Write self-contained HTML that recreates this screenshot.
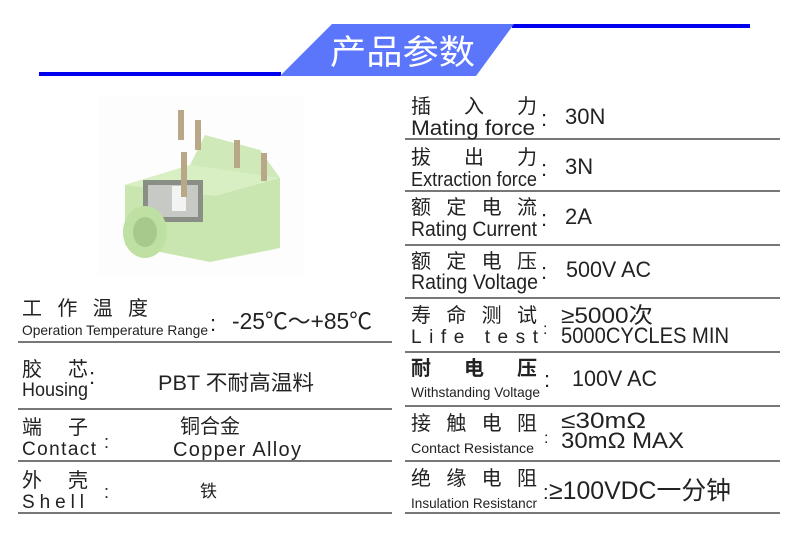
<!DOCTYPE html>
<html><head><meta charset="utf-8"><style>
html,body{margin:0;padding:0;background:#fff;}
svg{display:block;}
text{font-family:"Liberation Sans","Noto Sans CJK SC",sans-serif;fill:#222;}
.cn{font-family:"Noto Sans CJK SC","WenQuanYi Zen Hei",sans-serif;}
</style></head><body>
<svg width="790" height="553" viewBox="0 0 790 553" xmlns="http://www.w3.org/2000/svg">
<!-- header -->
<rect x="512" y="24" width="238" height="4" fill="#0000ee"/>
<rect x="39" y="72" width="242" height="4" fill="#0000ee"/>
<polygon points="332,24 514,24 476,76 280,76" fill="#5b76fb"/>
<text x="330" y="64" class="cn" font-size="34" style="fill:#fff" textLength="145" lengthAdjust="spacingAndGlyphs">产品参数</text>

<!-- product image -->
<rect x="98" y="97" width="206" height="178" fill="#fdfdfd"/>
<g>
<polygon points="125,185 190,165 280,178 280,248 210,262 125,245" fill="#c9e6b0"/>
<polygon points="125,185 190,165 280,178 215,196" fill="#d8efc4"/>
<polygon points="190,165 205,135 260,150 280,178" fill="#cfe9b8"/>
<rect x="143" y="180" width="60" height="42" fill="#8a8f86"/>
<rect x="148" y="185" width="50" height="32" fill="#c7c9c5"/>
<rect x="172" y="186" width="14" height="25" fill="#f3f3f3"/>
<rect x="178" y="110" width="6" height="30" fill="#b8a887"/>
<rect x="195" y="120" width="6" height="30" fill="#b8a887"/>
<rect x="234" y="140" width="6" height="28" fill="#b8a887"/>
<rect x="261" y="153" width="6" height="28" fill="#b8a887"/>
<rect x="181" y="152" width="6" height="45" fill="#b8a887"/>
<ellipse cx="145" cy="232" rx="22" ry="26" fill="#bfe0a3"/>
<ellipse cx="145" cy="232" rx="12" ry="15" fill="#a8c98e"/>
</g>

<!-- separators -->
<g fill="#777">
<rect x="18" y="341" width="374" height="2"/>
<rect x="18" y="408" width="374" height="2"/>
<rect x="18" y="460" width="374" height="2"/>
<rect x="18" y="512" width="374" height="2"/>
<rect x="405" y="138" width="375" height="2"/>
<rect x="405" y="190" width="375" height="2"/>
<rect x="405" y="244" width="375" height="2"/>
<rect x="405" y="297" width="375" height="2"/>
<rect x="405" y="351" width="375" height="2"/>
<rect x="405" y="405" width="375" height="2"/>
<rect x="405" y="460" width="375" height="2"/>
<rect x="405" y="512" width="375" height="2"/>
</g>

<!-- left column -->
<text class="cn" x="22" y="315" font-size="20" textLength="126" lengthAdjust="spacing">工作温度</text>
<text x="22" y="335" font-size="14" textLength="186" lengthAdjust="spacingAndGlyphs">Operation Temperature Range</text>
<text x="210" y="331" font-size="22">:</text>
<text x="232" y="329" font-size="23" textLength="140" lengthAdjust="spacingAndGlyphs">-25℃～+85℃</text>

<text class="cn" x="22" y="376" font-size="20" textLength="66" lengthAdjust="spacing">胶芯</text>
<text x="22" y="396" font-size="19" textLength="66" lengthAdjust="spacingAndGlyphs">Housing</text>
<text x="89" y="384" font-size="22">:</text>
<text x="158" y="390" font-size="21" textLength="156" lengthAdjust="spacingAndGlyphs">PBT 不耐高温料</text>

<text class="cn" x="22" y="434" font-size="20" textLength="66" lengthAdjust="spacing">端子</text>
<text x="22" y="455" font-size="19" textLength="74" lengthAdjust="spacing">Contact</text>
<text x="104" y="448" font-size="18">:</text>
<text class="cn" x="180" y="433" font-size="20">铜合金</text>
<text x="173" y="456" font-size="20" textLength="128" lengthAdjust="spacing">Copper Alloy</text>

<text class="cn" x="22" y="487" font-size="20" textLength="66" lengthAdjust="spacing">外壳</text>
<text x="22" y="508" font-size="19" textLength="62" lengthAdjust="spacing">Shell</text>
<text x="104" y="498" font-size="18">:</text>
<text class="cn" x="200" y="497" font-size="17">铁</text>

<!-- right column -->
<text class="cn" x="411" y="113" font-size="20" textLength="126" lengthAdjust="spacing">插入力</text>
<text x="411" y="135" font-size="21" textLength="124" lengthAdjust="spacingAndGlyphs">Mating force</text>
<text x="541" y="126" font-size="22">:</text>
<text x="565" y="124" font-size="22">30N</text>

<text class="cn" x="411" y="164" font-size="20" textLength="126" lengthAdjust="spacing">拔出力</text>
<text x="411" y="186" font-size="20" textLength="126" lengthAdjust="spacingAndGlyphs">Extraction force</text>
<text x="541" y="176" font-size="22">:</text>
<text x="565" y="174" font-size="22">3N</text>

<text class="cn" x="411" y="214" font-size="20" textLength="126" lengthAdjust="spacing">额定电流</text>
<text x="411" y="236" font-size="21" textLength="126" lengthAdjust="spacingAndGlyphs">Rating Current</text>
<text x="541" y="226" font-size="22">:</text>
<text x="565" y="224" font-size="22">2A</text>

<text class="cn" x="411" y="268" font-size="20" textLength="126" lengthAdjust="spacing">额定电压</text>
<text x="411" y="289" font-size="21" textLength="127" lengthAdjust="spacingAndGlyphs">Rating Voltage</text>
<text x="541" y="279" font-size="22">:</text>
<text x="566" y="277" font-size="22" textLength="85" lengthAdjust="spacingAndGlyphs">500V AC</text>

<text class="cn" x="411" y="322" font-size="20" textLength="126" lengthAdjust="spacing">寿命测试</text>
<text x="411" y="343" font-size="19" textLength="127" lengthAdjust="spacing">Life test</text>
<text x="543" y="334" font-size="16">:</text>
<text x="561" y="323" font-size="22" textLength="92" lengthAdjust="spacingAndGlyphs">≥5000次</text>
<text x="561" y="343" font-size="22" textLength="168" lengthAdjust="spacingAndGlyphs">5000CYCLES MIN</text>

<text class="cn" x="411" y="375" font-size="20" font-weight="bold" textLength="126" lengthAdjust="spacing">耐电压</text>
<text x="411" y="397" font-size="14" textLength="129" lengthAdjust="spacingAndGlyphs">Withstanding Voltage</text>
<text x="544" y="387" font-size="22">:</text>
<text x="572" y="386" font-size="22" textLength="85" lengthAdjust="spacingAndGlyphs">100V AC</text>

<text class="cn" x="411" y="430" font-size="20" textLength="126" lengthAdjust="spacing">接触电阻</text>
<text x="411" y="453" font-size="14" textLength="123" lengthAdjust="spacingAndGlyphs">Contact Resistance</text>
<text x="544" y="443" font-size="16">:</text>
<text x="561" y="428" font-size="22" textLength="85" lengthAdjust="spacingAndGlyphs">≤30mΩ</text>
<text x="561" y="448" font-size="22" textLength="123" lengthAdjust="spacingAndGlyphs">30mΩ  MAX</text>

<text class="cn" x="411" y="485" font-size="20" textLength="126" lengthAdjust="spacing">绝缘电阻</text>
<text x="411" y="508" font-size="14" textLength="126" lengthAdjust="spacingAndGlyphs">Insulation Resistancr</text>
<text x="543" y="499" font-size="20">:</text>
<text x="549" y="499" font-size="25" textLength="182" lengthAdjust="spacingAndGlyphs">≥100VDC一分钟</text>
</svg>
</body></html>
